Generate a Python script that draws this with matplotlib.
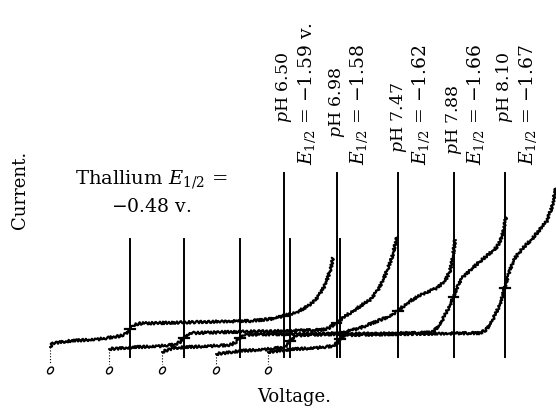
import numpy as np
import matplotlib
matplotlib.use("Agg")
import matplotlib.pyplot as plt
from matplotlib.markers import MarkerStyle
from matplotlib.transforms import Affine2D

plt.rcParams["font.family"] = "DejaVu Serif"
plt.rcParams["mathtext.fontset"] = "dejavuserif"

# ── datos ────────────────────────────────────────────────────────────────────
ph     = ["6.50", "6.98", "7.47", "7.88", "8.10"]
e_half = [-1.59, -1.58, -1.62, -1.66, -1.67]     # V, onda del compuesto
e_tl   = -0.48                                   # V, onda del talio
shift  = [0.458, 0.848, 1.252, 1.613, 1.973]     # desplazamiento de cada registro (V)

# -E (V) y corriente (divisiones) de cada polarograma
v1 = [-0.097, -0.076, 0.047, 0.263, 0.408, 0.451, 0.480, 0.509, 0.552, 0.841, 1.129,
      1.346, 1.490, 1.584, 1.685, 1.779, 1.836, 1.880, 1.908, 1.930, 1.944]
i1 = [2.3, 2.7, 2.9, 3.1, 3.4, 3.6, 4.1, 4.5, 4.65, 4.75, 4.85,
      4.9, 5.1, 5.4, 5.8, 6.5, 7.3, 8.3, 9.3, 10.2, 11.2]

v2 = [-0.061, 0.090, 0.307, 0.415, 0.451, 0.480, 0.509, 0.552, 0.812, 1.172, 1.461,
      1.519, 1.576, 1.677, 1.764, 1.822, 1.880, 1.916, 1.952, 1.981, 2.017]
i2 = [2.1, 2.25, 2.4, 2.55, 2.8, 3.2, 3.55, 3.7, 3.8, 3.9, 4.0,
      4.15, 4.7, 5.7, 6.5, 7.0, 8.0, 9.0, 10.2, 11.3, 13.3]

v3 = [-0.083, -0.004, 0.191, 0.408, 0.451, 0.480, 0.509, 0.552, 0.841, 1.129, 1.237,
      1.346, 1.490, 1.562, 1.620, 1.706, 1.800, 1.901, 1.959, 1.995, 2.017, 2.031]
i3 = [1.8, 2.2, 2.35, 2.5, 2.8, 3.2, 3.45, 3.55, 3.6, 3.65, 3.8,
      4.2, 5.0, 5.4, 5.95, 6.9, 7.6, 8.2, 8.9, 9.9, 11.4, 13.0]

v4 = [-0.054, 0.119, 0.335, 0.437, 0.465, 0.487, 0.516, 0.566, 0.841, 1.129, 1.418, 1.512,
      1.562, 1.613, 1.649, 1.670, 1.692, 1.728, 1.829, 1.923, 1.973, 2.009, 2.024, 2.038]
i4 = [1.6, 1.9, 2.1, 2.3, 2.6, 3.0, 3.35, 3.5, 3.6, 3.65, 3.7, 3.8,
      4.6, 5.9, 7.0, 7.55, 8.5, 9.3, 10.6, 11.7, 12.3, 13.3, 14.2, 15.3]

v5 = [-0.040, 0.119, 0.335, 0.429, 0.458, 0.480, 0.509, 0.552, 0.913, 1.273, 1.490, 1.533,
      1.576, 1.613, 1.649, 1.677, 1.706, 1.742, 1.800, 1.872, 1.973, 2.002, 2.017, 2.038]
i5 = [1.8, 2.05, 2.25, 2.4, 2.7, 3.1, 3.4, 3.5, 3.6, 3.65, 3.7, 4.0,
      4.9, 5.9, 7.2, 8.6, 10.0, 11.2, 12.2, 13.2, 14.9, 16.0, 16.8, 18.2]

curves = [(v1, i1), (v2, i2), (v3, i3), (v4, i4), (v5, i5)]

# ── figura ───────────────────────────────────────────────────────────────────
fig = plt.figure(figsize=(5.56, 4.08), dpi=100)
ax = fig.add_axes([0, 0, 1, 1])
ax.set_xlim(0, 4.0115)
ax.set_ylim(-3.8, 37.0)
ax.axis("off")

oval = MarkerStyle("o", fillstyle="none",
                   transform=Affine2D().scale(0.65, 1.0).rotate_deg(-35))

ph_bottom = [24.7, 23.2, 21.7, 21.5, 24.7]       # base de cada rótulo de pH

for k, (v, i) in enumerate(curves):
    x = shift[k] + np.array(v)
    y = np.array(i)

    # registro con las oscilaciones de la gota
    ln, = ax.plot(x, y, color="black", lw=1.6, solid_capstyle="round", zorder=3)
    ln.set_sketch_params(scale=1.3, length=3.5, randomness=2)

    # línea punteada al cero del galvanómetro
    ax.plot([x[0], x[0]], [y[0], 0.6], color="black", lw=0.8,
            ls=(0, (1, 1.6)), zorder=2)
    ax.plot(x[0], 0, marker=oval, ms=5.5, mew=1.0, color="black", ls="none")

    # líneas verticales: talio (cortas) y compuesto (largas)
    x_tl = shift[k] - e_tl
    x_c  = shift[k] - e_half[k]
    ax.plot([x_tl, x_tl], [1.3, 13.1], color="black", lw=1.4, zorder=2)
    ax.plot([x_c, x_c], [1.3, 19.7], color="black", lw=1.4, zorder=2)

    # marcas de medio escalón
    for xm in (x_tl, x_c):
        ym = np.interp(xm - shift[k], v, i)
        ax.plot([xm - 0.035, xm + 0.035], [ym, ym], color="black", lw=1.6, zorder=4)

    # rótulos de pH y E1/2
    ax.text(x_c, ph_bottom[k], f"$p$H {ph[k]}", rotation=90, ha="center", va="bottom",
            fontsize=12.5)
    etxt = f"$E_{{1/2}}$ = $-${abs(e_half[k]):.2f}" + (" v." if k == 0 else "")
    ax.text(x_c + 0.165, 20.5, etxt, rotation=90, ha="center", va="bottom",
            fontsize=13.5)

fig.text(0.272, 0.559, "Thallium $E_{1/2}$ =", ha="center", va="center", fontsize=14)
fig.text(0.272, 0.493, "$-$0.48 v.", ha="center", va="center", fontsize=13.5)
fig.text(0.036, 0.534, "Current.", rotation=90, ha="center", va="center", fontsize=13)
fig.text(0.529, 0.027, "Voltage.", ha="center", va="center", fontsize=13)

fig.savefig("out.png", dpi=100)
